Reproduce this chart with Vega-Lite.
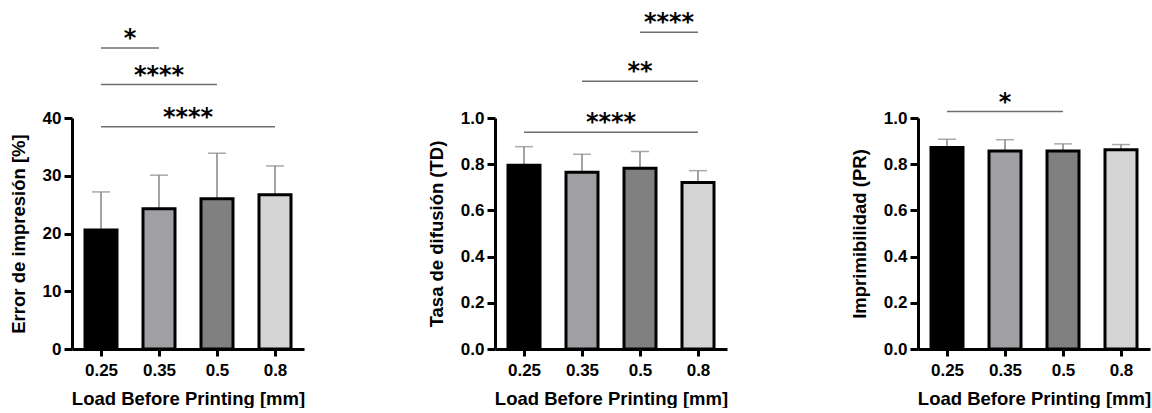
{
  "$schema": "https://vega.github.io/schema/vega-lite/v6.json",
  "background": "white",
  "padding": {"left": 9, "top": 11, "right": 0, "bottom": 0},
  "spacing": 122,
  "config": {
    "view": {"stroke": null},
    "font": "Liberation Sans",
    "axis": {
      "grid": false,
      "domainColor": "black",
      "domainWidth": 3,
      "tickColor": "black",
      "tickWidth": 3,
      "labelFont": "Liberation Sans",
      "labelFontWeight": "bold",
      "labelFontSize": 17,
      "labelColor": "black",
      "titleFont": "Liberation Sans",
      "titleFontWeight": "bold",
      "titleFontSize": 18.5,
      "titleColor": "black"
    },
    "axisX": {"tickSize": 7, "labelPadding": 6, "titlePadding": 11, "labelAngle": 0},
    "axisY": {"tickSize": 8, "labelPadding": 3, "titlePadding": 14}
  },
  "datasets": {
    "b1": [
      {"load": "0.25", "mean": 20.6, "err": 27.2},
      {"load": "0.35", "mean": 24.3, "err": 30.1},
      {"load": "0.5", "mean": 26.0, "err": 33.9},
      {"load": "0.8", "mean": 26.7, "err": 31.7}
    ],
    "a1": [
      {"from": "0.25", "to": "0.35", "mid": "0.25–0.35", "y": 52.1, "label": "*"},
      {"from": "0.25", "to": "0.5", "mid": "0.35", "y": 45.8, "label": "****"},
      {"from": "0.25", "to": "0.8", "mid": "0.35–0.5", "y": 38.5, "label": "****"}
    ],
    "b2": [
      {"load": "0.25", "mean": 0.795, "err": 0.876},
      {"load": "0.35", "mean": 0.765, "err": 0.843},
      {"load": "0.5", "mean": 0.783, "err": 0.855},
      {"load": "0.8", "mean": 0.721, "err": 0.772}
    ],
    "a2": [
      {"from": "0.5", "to": "0.8", "mid": "0.5–0.8", "y": 1.371, "label": "****"},
      {"from": "0.35", "to": "0.8", "mid": "0.5", "y": 1.159, "label": "**"},
      {"from": "0.25", "to": "0.8", "mid": "0.35–0.5", "y": 0.938, "label": "****"}
    ],
    "b3": [
      {"load": "0.25", "mean": 0.872, "err": 0.908},
      {"load": "0.35", "mean": 0.857, "err": 0.906},
      {"load": "0.5", "mean": 0.857, "err": 0.888},
      {"load": "0.8", "mean": 0.863, "err": 0.885}
    ],
    "a3": [
      {"from": "0.25", "to": "0.5", "mid": "0.35", "y": 1.028, "label": "*"}
    ]
  },
  "hconcat": [
    {
      "width": 232, "height": 231,
      "layer": [
        {"data": {"name": "b1"}, "mark": {"type": "rule", "color": "#858585", "strokeWidth": 1.5},
         "encoding": {
           "x": {"field": "load", "type": "nominal", "scale": {"type": "point", "domain": ["0.25", "0.25–0.35", "0.35", "0.35–0.5", "0.5", "0.5–0.8", "0.8"], "padding": 1.35}, "axis": {"values": ["0.25", "0.35", "0.5", "0.8"]}, "title": "Load Before Printing [mm]"},
           "y": {"field": "mean", "type": "quantitative", "scale": {"domain": [0, 40], "nice": false, "zero": true}, "axis": {"values": [0, 10, 20, 30, 40]}, "title": "Error de impresión [%]"},
           "y2": {"field": "err"}}},
        {"data": {"name": "b1"}, "mark": {"type": "tick", "orient": "horizontal", "color": "#858585", "thickness": 1.5, "size": 18},
         "encoding": {
           "x": {"field": "load", "type": "nominal", "title": "Load Before Printing [mm]"},
           "y": {"field": "err", "type": "quantitative", "title": "Error de impresión [%]"}}},
        {"data": {"name": "b1"}, "mark": {"type": "bar", "width": 32, "stroke": "black", "strokeWidth": 3},
         "encoding": {
           "x": {"field": "load", "type": "nominal", "title": "Load Before Printing [mm]"},
           "y": {"field": "mean", "type": "quantitative", "title": "Error de impresión [%]"},
           "color": {"field": "load", "type": "nominal", "scale": {"domain": ["0.25", "0.35", "0.5", "0.8"], "range": ["#000000", "#a0a0a4", "#808080", "#d4d4d4"]}, "legend": null}}},
        {"data": {"name": "a1"}, "mark": {"type": "rule", "color": "#6e6e6e", "strokeWidth": 1.5},
         "encoding": {
           "x": {"field": "from", "type": "nominal", "title": "Load Before Printing [mm]"},
           "x2": {"field": "to"},
           "y": {"field": "y", "type": "quantitative", "title": "Error de impresión [%]"}}},
        {"data": {"name": "a1"}, "mark": {"type": "text", "font": "DejaVu Sans", "fontWeight": "bold", "fontSize": 24, "color": "black", "dy": -2, "baseline": "alphabetic"},
         "encoding": {
           "x": {"field": "mid", "type": "nominal", "title": "Load Before Printing [mm]"},
           "y": {"field": "y", "type": "quantitative", "title": "Error de impresión [%]"},
           "text": {"field": "label"}}}
      ]
    },
    {
      "width": 232, "height": 231,
      "layer": [
        {"data": {"name": "b2"}, "mark": {"type": "rule", "color": "#858585", "strokeWidth": 1.5},
         "encoding": {
           "x": {"field": "load", "type": "nominal", "scale": {"type": "point", "domain": ["0.25", "0.25–0.35", "0.35", "0.35–0.5", "0.5", "0.5–0.8", "0.8"], "padding": 1.35}, "axis": {"values": ["0.25", "0.35", "0.5", "0.8"]}, "title": "Load Before Printing [mm]"},
           "y": {"field": "mean", "type": "quantitative", "scale": {"domain": [0, 1], "nice": false, "zero": true}, "axis": {"values": [0, 0.2, 0.4, 0.6, 0.8, 1.0], "format": ".1f"}, "title": "Tasa de difusión (TD)"},
           "y2": {"field": "err"}}},
        {"data": {"name": "b2"}, "mark": {"type": "tick", "orient": "horizontal", "color": "#858585", "thickness": 1.5, "size": 18},
         "encoding": {
           "x": {"field": "load", "type": "nominal", "title": "Load Before Printing [mm]"},
           "y": {"field": "err", "type": "quantitative", "title": "Tasa de difusión (TD)"}}},
        {"data": {"name": "b2"}, "mark": {"type": "bar", "width": 32, "stroke": "black", "strokeWidth": 3},
         "encoding": {
           "x": {"field": "load", "type": "nominal", "title": "Load Before Printing [mm]"},
           "y": {"field": "mean", "type": "quantitative", "title": "Tasa de difusión (TD)"},
           "color": {"field": "load", "type": "nominal", "scale": {"domain": ["0.25", "0.35", "0.5", "0.8"], "range": ["#000000", "#a0a0a4", "#808080", "#d4d4d4"]}, "legend": null}}},
        {"data": {"name": "a2"}, "mark": {"type": "rule", "color": "#6e6e6e", "strokeWidth": 1.5},
         "encoding": {
           "x": {"field": "from", "type": "nominal", "title": "Load Before Printing [mm]"},
           "x2": {"field": "to"},
           "y": {"field": "y", "type": "quantitative", "title": "Tasa de difusión (TD)"}}},
        {"data": {"name": "a2"}, "mark": {"type": "text", "font": "DejaVu Sans", "fontWeight": "bold", "fontSize": 24, "color": "black", "dy": -2, "baseline": "alphabetic"},
         "encoding": {
           "x": {"field": "mid", "type": "nominal", "title": "Load Before Printing [mm]"},
           "y": {"field": "y", "type": "quantitative", "title": "Tasa de difusión (TD)"},
           "text": {"field": "label"}}}
      ]
    },
    {
      "width": 232, "height": 231,
      "layer": [
        {"data": {"name": "b3"}, "mark": {"type": "rule", "color": "#858585", "strokeWidth": 1.5},
         "encoding": {
           "x": {"field": "load", "type": "nominal", "scale": {"type": "point", "domain": ["0.25", "0.25–0.35", "0.35", "0.35–0.5", "0.5", "0.5–0.8", "0.8"], "padding": 1.35}, "axis": {"values": ["0.25", "0.35", "0.5", "0.8"]}, "title": "Load Before Printing [mm]"},
           "y": {"field": "mean", "type": "quantitative", "scale": {"domain": [0, 1], "nice": false, "zero": true}, "axis": {"values": [0, 0.2, 0.4, 0.6, 0.8, 1.0], "format": ".1f"}, "title": "Imprimibilidad (PR)"},
           "y2": {"field": "err"}}},
        {"data": {"name": "b3"}, "mark": {"type": "tick", "orient": "horizontal", "color": "#858585", "thickness": 1.5, "size": 18},
         "encoding": {
           "x": {"field": "load", "type": "nominal", "title": "Load Before Printing [mm]"},
           "y": {"field": "err", "type": "quantitative", "title": "Imprimibilidad (PR)"}}},
        {"data": {"name": "b3"}, "mark": {"type": "bar", "width": 32, "stroke": "black", "strokeWidth": 3},
         "encoding": {
           "x": {"field": "load", "type": "nominal", "title": "Load Before Printing [mm]"},
           "y": {"field": "mean", "type": "quantitative", "title": "Imprimibilidad (PR)"},
           "color": {"field": "load", "type": "nominal", "scale": {"domain": ["0.25", "0.35", "0.5", "0.8"], "range": ["#000000", "#a0a0a4", "#808080", "#d4d4d4"]}, "legend": null}}},
        {"data": {"name": "a3"}, "mark": {"type": "rule", "color": "#6e6e6e", "strokeWidth": 1.5},
         "encoding": {
           "x": {"field": "from", "type": "nominal", "title": "Load Before Printing [mm]"},
           "x2": {"field": "to"},
           "y": {"field": "y", "type": "quantitative", "title": "Imprimibilidad (PR)"}}},
        {"data": {"name": "a3"}, "mark": {"type": "text", "font": "DejaVu Sans", "fontWeight": "bold", "fontSize": 24, "color": "black", "dy": -2, "baseline": "alphabetic"},
         "encoding": {
           "x": {"field": "mid", "type": "nominal", "title": "Load Before Printing [mm]"},
           "y": {"field": "y", "type": "quantitative", "title": "Imprimibilidad (PR)"},
           "text": {"field": "label"}}}
      ]
    }
  ]
}
